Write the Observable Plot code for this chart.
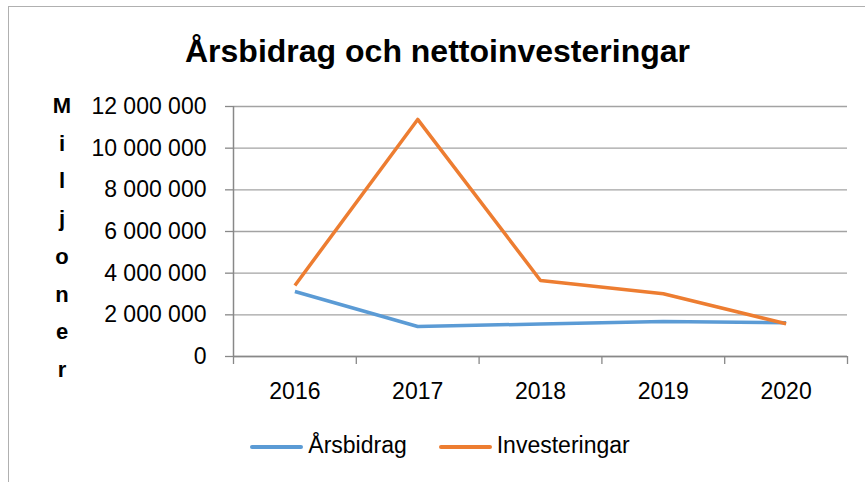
<!DOCTYPE html>
<html><head><meta charset="utf-8">
<script src="https://cdn.jsdelivr.net/npm/d3@7"></script>
<script src="https://cdn.jsdelivr.net/npm/@observablehq/plot@0.6"></script>
<style>
html,body{margin:0;padding:0;background:#fff;overflow:hidden;}
#wrap{position:relative;width:865px;height:482px;overflow:hidden;font-family:"Liberation Sans",Arial,sans-serif;color:#000;}
#frame{position:absolute;left:8px;top:6px;width:900px;height:520px;border-left:1.5px solid #b0b0b0;border-top:1.5px solid #b0b0b0;}
#title{position:absolute;left:0;width:875px;top:35px;text-align:center;font-weight:bold;font-size:32px;line-height:32px;white-space:nowrap;}
#ylab{position:absolute;left:48px;top:87px;width:28px;text-align:center;font-weight:bold;font-size:22px;line-height:37.7px;}
#ylab span{display:block;}
#chart{position:absolute;left:0;top:0;}
#legend{position:absolute;left:0;width:880px;top:434px;display:flex;justify-content:center;font-size:23px;line-height:23px;white-space:nowrap;}
.item{display:flex;align-items:center;}
.sw{display:inline-block;width:53px;height:3.5px;border-radius:2px;margin-right:5px;margin-top:3px;}
.gap{width:32px;}
</style></head>
<body>
<div id="wrap">
  <div id="frame"></div>
  <div id="chart"></div>
  <div id="title"></div>
  <div id="ylab"></div>
  <div id="legend"></div>
</div>
<script>
const title = "Årsbidrag och nettoinvesteringar";
const yLabel = "Miljoner";
const years = ["2016", "2017", "2018", "2019", "2020"];
const seriesNames = ["Årsbidrag", "Investeringar"];
const seriesColors = ["#5B9BD5", "#ED7D31"];
const arsbidrag = [3120000, 1440000, 1560000, 1680000, 1620000];
const investeringar = [3410000, 11380000, 3650000, 3010000, 1570000];
const yTicks = [0, 2000000, 4000000, 6000000, 8000000, 10000000, 12000000];

const rows = [];
years.forEach((yr, i) => {
  rows.push({x: i + 0.5, year: yr, serie: seriesNames[0], value: arsbidrag[i]});
});
years.forEach((yr, i) => {
  rows.push({x: i + 0.5, year: yr, serie: seriesNames[1], value: investeringar[i]});
});

const fmt = d3.formatLocale({decimal: ",", thousands: "\u00a0", grouping: [3], currency: ["", " kr"]}).format(",d");

const chart = Plot.plot({
  width: 865,
  height: 482,
  marginLeft: 233,
  marginRight: 18,
  marginTop: 106,
  marginBottom: 126,
  style: {fontFamily: '"Liberation Sans", Arial, sans-serif', fontSize: "23px", color: "#000", background: "transparent", overflow: "visible"},
  x: {type: "linear", domain: [0, years.length]},
  y: {domain: [0, 12000000]},
  color: {domain: seriesNames, range: seriesColors},
  marks: [
    Plot.gridY(yTicks, {stroke: "#a3a3a3", strokeOpacity: 1, strokeWidth: 1.3}),
    Plot.axisY(yTicks, {tickSize: 8, tickPadding: 19, tickFormat: fmt, stroke: "#888", strokeWidth: 1.3, fill: "#000", label: null, fontSize: 23}),
    Plot.ruleX([0], {stroke: "#888", strokeWidth: 1.5}),
    Plot.ruleY([0], {stroke: "#888", strokeWidth: 1.5}),
    Plot.axisX(d3.range(years.length + 1), {tickSize: 8, tickFormat: () => "", stroke: "#888", strokeWidth: 1.3, label: null}),
    Plot.axisX(years.map((_, i) => i + 0.5), {tickSize: 0, tickPadding: 26, tickFormat: d => years[Math.round(d - 0.5)], fill: "#000", label: null, fontSize: 23}),
    Plot.line(rows, {x: "x", y: "value", stroke: "serie", strokeWidth: 3.5, strokeLinecap: "butt"})
  ]
});
document.getElementById("chart").appendChild(chart);

document.getElementById("title").textContent = title;
const yl = document.getElementById("ylab");
for (const ch of yLabel) {
  const s = document.createElement("span");
  s.textContent = ch;
  yl.appendChild(s);
}
const lg = document.getElementById("legend");
seriesNames.forEach((name, i) => {
  if (i > 0) { const g = document.createElement("span"); g.className = "gap"; lg.appendChild(g); }
  const it = document.createElement("span");
  it.className = "item";
  const sw = document.createElement("span");
  sw.className = "sw";
  sw.style.background = seriesColors[i];
  const t = document.createElement("span");
  t.textContent = name;
  it.appendChild(sw);
  it.appendChild(t);
  lg.appendChild(it);
});
</script>
</body></html>
